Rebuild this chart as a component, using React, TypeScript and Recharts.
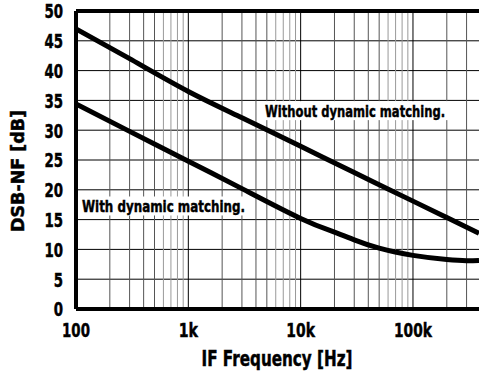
import React from "react";
import {
  LineChart,
  Line,
  XAxis,
  YAxis,
  CartesianGrid,
  ReferenceLine,
  ReferenceDot,
} from "recharts";

// IF frequency [Hz] / DSB-NF [dB]
const freqWithout = [100, 300, 1000, 3000, 10000, 30000, 100000, 200000, 387000];
const nfWithout = [47.0, 42.0, 36.5, 32.1, 27.3, 22.9, 18.1, 15.35, 12.7];

const freqWith = [100, 300, 1000, 3000, 10000, 20000, 30000, 50000, 100000, 200000, 300000, 387000];
const nfWith = [34.4, 29.8, 24.8, 20.2, 15.2, 12.9, 11.6, 10.2, 9.0, 8.3, 8.1, 8.15];

const xTicks = [100, 1000, 10000, 100000];
const xTickLabels = ["100", "1k", "10k", "100k"];
const yTicks = [0, 5, 10, 15, 20, 25, 30, 35, 40, 45, 50];
const minorSteps = [2, 3, 4, 5, 6, 7, 8, 9];

const FONT = '"DejaVu Sans", sans-serif';
const X_MAX = 387000;

const withoutData = freqWithout.map((f, i) => ({ f, nf: nfWithout[i] }));
const withData = freqWith.map((f, i) => ({ f, nf: nfWith[i] }));

const minorLines = xTicks
  .flatMap((d) => minorSteps.map((m) => ({ x: d * m, m })))
  .filter((l) => l.x < X_MAX);

// bold condensed text, squeezed to a given width
function Cond({ x, y, text, size, width, anchor = "middle", transform }: any) {
  return (
    <text
      x={x}
      y={y}
      transform={transform}
      textAnchor={anchor}
      fill="#000"
      stroke="#000"
      strokeWidth={0.5}
      fontSize={size}
      fontWeight={700}
      fontFamily={FONT}
      textLength={width}
      lengthAdjust="spacingAndGlyphs"
    >
      {text}
    </text>
  );
}

const labelWidth = (s: string) =>
  s.split("").reduce((w, c) => w + (c === "k" ? 10 : 9.3), 0);

function XTick({ x, y, payload }: any) {
  const s = xTickLabels[xTicks.indexOf(payload.value)] ?? "";
  return <Cond x={x} y={y + 28} text={s} size={20} width={labelWidth(s)} />;
}

function YTick({ x, y, payload }: any) {
  const s = String(payload.value);
  return <Cond x={x - 13} y={y + 7.3} text={s} size={20} width={labelWidth(s)} anchor="end" />;
}

// curve label on a white box that hides the grid behind it
function curveLabel(text: string, width: number, padL: number, padR: number) {
  return {
    content: ({ viewBox }: any) => {
      const cx = viewBox.x + viewBox.width / 2;
      const cy = viewBox.y + viewBox.height / 2;
      return (
        <g>
          <rect
            x={cx - width / 2 - padL}
            y={cy - 10}
            width={width + padL + padR}
            height={19}
            fill="#fff"
          />
          <Cond x={cx} y={cy + 6} text={text} size={16.5} width={width} />
        </g>
      );
    },
  };
}

export default function App() {
  return (
    <div style={{ position: "absolute", left: 0, top: 0, background: "#fff" }}>
      <LineChart width={479} height={380} margin={{ top: 11, right: 0, bottom: 0, left: 0 }}>
        <CartesianGrid vertical={false} stroke="#000" strokeWidth={1} />
        {minorLines.map((l) => (
          <ReferenceLine
            key={l.x}
            x={l.x}
            stroke={l.m <= 5 ? "#555" : "#999"}
            strokeWidth={1}
          />
        ))}
        {xTicks.slice(1).map((x) => (
          <ReferenceLine key={x} x={x} stroke="#000" strokeWidth={1} />
        ))}
        <ReferenceDot
          x={30500}
          y={33.2}
          r={1}
          fill="none"
          stroke="none"
          label={curveLabel("Without dynamic matching.", 180, 3, 3)}
        />
        <ReferenceDot
          x={601}
          y={17.2}
          r={1}
          fill="none"
          stroke="none"
          label={curveLabel("With dynamic matching.", 163, 4, 3)}
        />
        <XAxis
          dataKey="f"
          type="number"
          scale="log"
          domain={[100, X_MAX]}
          allowDataOverflow
          ticks={xTicks}
          interval={0}
          height={71}
          tick={<XTick />}
          tickLine={false}
          tickSize={0}
          tickMargin={0}
          axisLine={{ stroke: "#000", strokeWidth: 4 }}
          label={{
            content: () => (
              <Cond x={277} y={365.5} text="IF Frequency [Hz]" size={21} width={151} />
            ),
          }}
        />
        <YAxis
          type="number"
          domain={[0, 50]}
          ticks={yTicks}
          interval={0}
          width={76}
          tick={<YTick />}
          tickLine={false}
          tickSize={0}
          tickMargin={0}
          axisLine={{ stroke: "#000", strokeWidth: 4 }}
          label={{
            content: () => (
              <Cond
                x={0}
                y={0}
                transform="translate(24 171) rotate(-90)"
                text="DSB-NF [dB]"
                size={17}
                width={122}
              />
            ),
          }}
        />
        <ReferenceLine y={50} stroke="#000" strokeWidth={4} />
        <Line
          data={withoutData}
          dataKey="nf"
          type="natural"
          stroke="#000"
          strokeWidth={5}
          dot={false}
          isAnimationActive={false}
        />
        <Line
          data={withData}
          dataKey="nf"
          type="natural"
          stroke="#000"
          strokeWidth={5}
          dot={false}
          isAnimationActive={false}
        />
      </LineChart>
    </div>
  );
}
